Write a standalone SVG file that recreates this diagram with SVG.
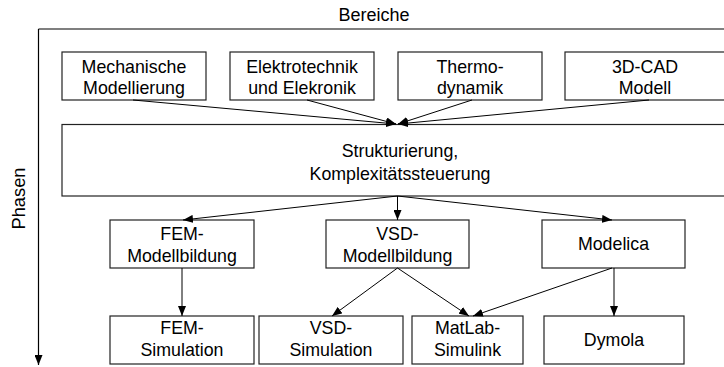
<svg xmlns="http://www.w3.org/2000/svg" width="724" height="367" viewBox="0 0 724 367">
<defs>
<marker id="ah" viewBox="0 0 10 8" refX="10" refY="4" markerWidth="10" markerHeight="8" markerUnits="userSpaceOnUse" orient="auto">
<path d="M0,0 L10,4 L0,8 Z" fill="#000"/>
</marker>
</defs>
<style>
.box{fill:#fff;stroke:#222;stroke-width:1.2}
.t{font-family:"Liberation Sans",Arial,sans-serif;font-size:17.8px;fill:#000;text-anchor:middle}
.c{fill:none;stroke:#000;stroke-width:1;marker-end:url(#ah)}
</style>
<rect width="724" height="367" fill="#fff"/>
<g id="axes">
<line x1="38.5" y1="29" x2="724" y2="29" stroke="#555" stroke-width="1.5"/>
<line x1="38.5" y1="29" x2="38.5" y2="365" stroke="#000" stroke-width="1.2" marker-end="url(#ah)"/>
<text class="t" x="374" y="21" style="font-size:18px">Bereiche</text>
<text class="t" transform="translate(25,198.5) rotate(-90)" style="font-size:18.3px">Phasen</text>
</g>
<g id="n-mech"><rect class="box" x="62" y="52" width="144" height="48"/><text class="t" x="134" y="72.5">Mechanische</text><text class="t" x="134" y="94">Modellierung</text></g>
<g id="n-elek"><rect class="box" x="230" y="52" width="144" height="48"/><text class="t" x="302" y="72.5">Elektrotechnik</text><text class="t" x="302" y="94">und Elekronik</text></g>
<g id="n-thermo"><rect class="box" x="398" y="52" width="144" height="48"/><text class="t" x="470" y="72.5">Thermo-</text><text class="t" x="470" y="94">dynamik</text></g>
<g id="n-cad"><rect class="box" x="565" y="52" width="162" height="48"/><text class="t" x="645" y="72.5">3D-CAD</text><text class="t" x="645" y="94">Modell</text></g>
<g id="n-struct"><rect class="box" x="62" y="124.5" width="665" height="71.5"/><text class="t" x="400" y="157">Strukturierung,</text><text class="t" x="400" y="180">Komplexitätssteuerung</text></g>
<g id="n-femmb"><rect class="box" x="110" y="220" width="144" height="48"/><text class="t" x="182" y="240">FEM-</text><text class="t" x="182" y="262">Modellbildung</text></g>
<g id="n-vsdmb"><rect class="box" x="326" y="220" width="143" height="48"/><text class="t" x="397.5" y="240">VSD-</text><text class="t" x="397.5" y="262">Modellbildung</text></g>
<g id="n-modelica"><rect class="box" x="542" y="220" width="143" height="48"/><text class="t" x="613.5" y="250">Modelica</text></g>
<g id="n-femsim"><rect class="box" x="110" y="316" width="144" height="48"/><text class="t" x="182" y="334">FEM-</text><text class="t" x="182" y="356">Simulation</text></g>
<g id="n-vsdsim"><rect class="box" x="259" y="316" width="144" height="48"/><text class="t" x="331" y="334">VSD-</text><text class="t" x="331" y="356">Simulation</text></g>
<g id="n-matlab"><rect class="box" x="412" y="316" width="111" height="48"/><text class="t" x="467.5" y="334">MatLab-</text><text class="t" x="467.5" y="356">Simulink</text></g>
<g id="n-dymola"><rect class="box" x="544" y="316" width="140" height="48"/><text class="t" x="614" y="346">Dymola</text></g>
<g id="connectors">
<line class="c" x1="133" y1="100" x2="396" y2="124"/>
<line class="c" x1="307" y1="100" x2="396" y2="124"/>
<line class="c" x1="472" y1="100" x2="398" y2="124"/>
<line class="c" x1="649" y1="100" x2="398" y2="124"/>
<line class="c" x1="397.5" y1="196" x2="183" y2="220"/>
<line class="c" x1="397.5" y1="196" x2="397.5" y2="220"/>
<line class="c" x1="397.5" y1="196" x2="612" y2="220"/>
<line class="c" x1="182" y1="268" x2="182" y2="316"/>
<line class="c" x1="397.5" y1="268" x2="332" y2="316"/>
<line class="c" x1="397.5" y1="268" x2="469" y2="316"/>
<line class="c" x1="612" y1="268" x2="473" y2="316"/>
<line class="c" x1="614" y1="268" x2="614" y2="316"/>
</g>
</svg>
